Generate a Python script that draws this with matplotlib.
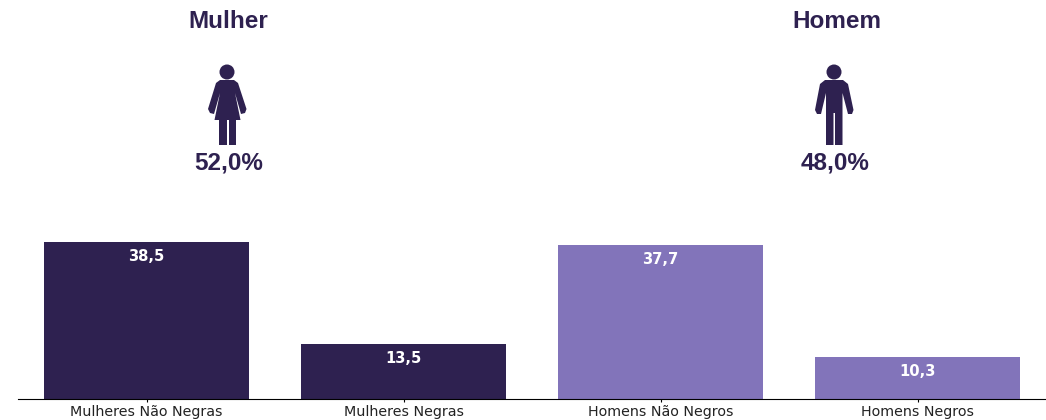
import matplotlib
matplotlib.use("Agg")
from matplotlib import pyplot as plt
from matplotlib.patches import Circle, Polygon, Rectangle

categories = ["Mulheres Não Negras", "Mulheres Negras", "Homens Não Negros", "Homens Negros"]
values = [38.5, 13.5, 37.7, 10.3]
value_labels = ["38,5", "13,5", "37,7", "10,3"]
group_titles = ["Mulher", "Homem"]
group_shares = ["52,0%", "48,0%"]

DARK = "#2e2150"
LIGHT = "#8274ba"
bar_colors = [DARK, DARK, LIGHT, LIGHT]
W, H = 1046, 420

fig = plt.figure(figsize=(W / 100, H / 100), dpi=100)

# bars, 4.08 px per unit
ax = fig.add_axes([18 / W, 21 / H, 1028 / W, 219 / H])
ax.bar(range(4), values, width=0.8, color=bar_colors)
ax.set_xlim(-0.5, 3.5)
ax.set_ylim(0, 219 / 4.08)
ax.set_xticks(range(4))
ax.set_xticklabels(categories, fontsize=10.3, color="#222222")
ax.tick_params(axis="x", length=2, width=0.8, pad=2)
ax.set_yticks([])
for s in ["top", "left", "right"]:
    ax.spines[s].set_visible(False)
for i, v in enumerate(values):
    ax.annotate(value_labels[i], (i, v), xytext=(0, -5), textcoords="offset points",
                ha="center", va="top", color="white", fontsize=10.6, fontweight="bold")

# overlay in pixel coords for the title block and the icons
ov = fig.add_axes([0, 0, 1, 1])
ov.set_xlim(0, W)
ov.set_ylim(H, 0)
ov.axis("off")
ov.patch.set_alpha(0)

title_font = dict(family="Liberation Sans", fontweight="bold", color=DARK, ha="center", va="center")
ov.text(228, 21, group_titles[0], fontsize=17.5, **title_font)
ov.text(837, 21, group_titles[1], fontsize=17.5, **title_font)
ov.text(229, 163, group_shares[0], fontsize=17.5, **title_font)
ov.text(835, 163, group_shares[1], fontsize=17.5, **title_font)

# woman
ov.add_patch(Circle((227, 72), 7.5, color=DARK, lw=0))
ov.add_patch(Polygon([(220, 80), (234, 80), (238, 83), (246.5, 109), (245, 113), (241, 114),
                     (235, 93), (240.5, 120), (214.5, 120), (220, 93), (214, 114), (210, 113),
                     (208, 109), (216, 83)], color=DARK, lw=0))
ov.add_patch(Rectangle((219, 120), 7.5, 25, color=DARK, lw=0))
ov.add_patch(Rectangle((228.5, 120), 7.5, 25, color=DARK, lw=0))

# man
ov.add_patch(Circle((834, 72), 7.5, color=DARK, lw=0))
ov.add_patch(Polygon([(825, 80), (843, 80), (848, 84), (853.5, 110), (852, 114), (848, 114),
                     (842.5, 93), (842.5, 145), (835, 145), (835, 113), (833.5, 113), (833.5, 145),
                     (826, 145), (826, 93), (821, 114), (817, 114), (815, 110), (820, 84)],
                    color=DARK, lw=0))

fig.savefig("out.png", dpi=100)
